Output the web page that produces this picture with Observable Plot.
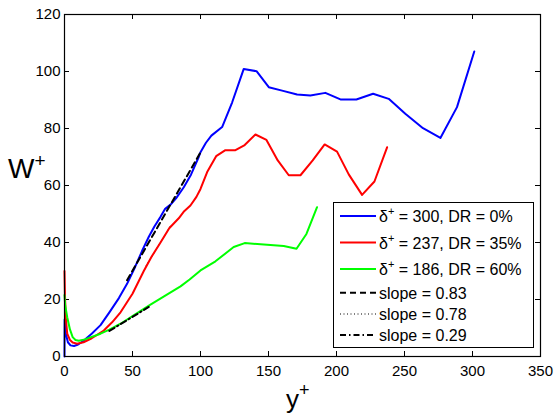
<!DOCTYPE html>
<html>
<head>
<meta charset="utf-8">
<script src="https://cdn.jsdelivr.net/npm/d3@7"></script>
<script src="https://cdn.jsdelivr.net/npm/@observablehq/plot@0.6"></script>
<style>
  html, body { margin: 0; padding: 0; background: #fff; }
  #chart svg { display: block; }
</style>
</head>
<body>
<div id="chart"></div>
<script>
// ---- data ----
const xTicks = [0, 50, 100, 150, 200, 250, 300, 350];
const yTicks = [0, 20, 40, 60, 80, 100, 120];

const blueY = [0, 0.1, 1, 2.5, 4.4, 7, 10, 14, 20, 26.5, 33, 40, 46, 52, 57, 62, 66, 70.6, 74, 78, 82, 87.7, 93, 98.7, 100, 104, 108, 115.9, 123.3, 131.8, 141.2, 150.2, 160, 171, 180.8, 191.8, 202.9, 214.6, 226.9, 238.4, 250.6, 263.6, 276.4, 288.6, 301.3];
const blueW = [0, 13, 8, 5, 3.9, 3.7, 4.2, 5.5, 8, 11, 15.5, 20.5, 25.5, 31.5, 37, 42, 45.5, 49, 51.8, 53.3, 55.5, 59.4, 63.8, 70, 71.7, 75, 77.5, 80.5, 89.2, 100.9, 100.1, 94.5, 93.3, 91.9, 91.6, 92.5, 90.2, 90.2, 92.2, 90.4, 85.2, 80.1, 76.7, 87.5, 107];

const redY = [0, 0.3, 1, 2, 4, 6, 9.3, 14, 20, 28.9, 35, 41.2, 50, 58.3, 64, 70.6, 77, 84, 88, 92.6, 97, 100, 104.9, 111.5, 118.3, 125.7, 132.5, 140.4, 148.5, 156.8, 164.9, 173.5, 182.5, 191.3, 200.4, 209, 218.8, 227.9, 237.2];
const redW = [30, 22, 13, 8, 5.8, 4.9, 4.5, 5, 6.4, 9.1, 12, 15.5, 22, 30, 35, 40, 45, 48.5, 51, 53, 56, 58.8, 64.7, 70.3, 72.4, 72.4, 74.2, 77.9, 76, 68.8, 63.6, 63.6, 68.8, 74.4, 71.9, 63.9, 56.7, 61.4, 73.4];

const greenY = [0, 0.5, 2, 4, 6, 8.1, 10.5, 15, 20, 26.5, 33, 41.2, 50, 63.2, 75, 85.3, 92, 100, 111, 124.4, 132.5, 149, 161.2, 170.6, 177.9, 185.7];
const greenW = [21.6, 18, 13.8, 9.5, 6.8, 5.8, 5.5, 6, 6.9, 8, 9.4, 11.5, 14.2, 18.2, 21.6, 24.6, 27, 30.2, 33.4, 38.4, 39.8, 39.2, 38.8, 37.8, 43, 52.4];

// fitted slope lines (slope, intercept, y+ range)
const slopeNames = ["slope = 0.83", "slope = 0.78", "slope = 0.29"];
const slopeValues = [0.83, 0.78, 0.29];
const slopeIntercepts = [-11.4, -15, -0.6];
const slopeStart = [46, 60, 33];
const slopeEnd = [100, 78, 62];

const seriesNames = ["300, DR = 0%", "237, DR = 35%", "186, DR = 60%"];
const seriesColors = ["#0000ff", "#ff0000", "#00ff00"];

// ---- build tables ----
const toRows = (xs, ws) => xs.map((x, i) => ({x, w: ws[i]}));
const blue = toRows(blueY, blueW);
const red = toRows(redY, redW);
const green = toRows(greenY, greenW);
const slopeLine = (k) => [slopeStart[k], slopeEnd[k]].map(x => ({x, w: slopeValues[k] * x + slopeIntercepts[k]}));

const dashes = ["6,4", "1,2.5", "6,3,1.5,3"];
const W = 555, H = 416;
const mL = 64, mR = 15, mT = 14, mB = 60;
const tickLenX = 5 * 350 / (W - mL - mR);
const tickLenY = 5 * 120 / (H - mT - mB);

const plot = Plot.plot({
  width: W, height: H,
  marginLeft: mL, marginRight: mR, marginTop: mT, marginBottom: mB,
  style: {fontFamily: "'Liberation Sans', Arial, Helvetica, sans-serif", fontSize: "15px", background: "white", color: "black"},
  x: {domain: [0, 350], label: null},
  y: {domain: [0, 120], label: null},
  marks: [
    Plot.axisX(xTicks, {tickSize: 0, tickPadding: 9, fontSize: 15, label: null}),
    Plot.axisY(yTicks, {tickSize: 0, tickPadding: 4, fontSize: 15, label: null}),
    Plot.ruleX(xTicks, {y1: 0, y2: tickLenY, stroke: "black", strokeWidth: 1}),
    Plot.ruleX(xTicks, {y1: 120, y2: 120 - tickLenY, stroke: "black", strokeWidth: 1}),
    Plot.ruleY(yTicks, {x1: 0, x2: tickLenX, stroke: "black", strokeWidth: 1}),
    Plot.ruleY(yTicks, {x1: 350, x2: 350 - tickLenX, stroke: "black", strokeWidth: 1}),
    Plot.line(slopeLine(1), {x: "x", y: "w", stroke: "black", strokeWidth: 1, strokeDasharray: dashes[1]}),
    Plot.line(blue, {x: "x", y: "w", stroke: seriesColors[0], strokeWidth: 2}),
    Plot.line(red, {x: "x", y: "w", stroke: seriesColors[1], strokeWidth: 2}),
    Plot.line(green, {x: "x", y: "w", stroke: seriesColors[2], strokeWidth: 2}),
    Plot.line(slopeLine(0), {x: "x", y: "w", stroke: "black", strokeWidth: 2, strokeDasharray: dashes[0]}),
    Plot.line(slopeLine(2), {x: "x", y: "w", stroke: "black", strokeWidth: 2, strokeDasharray: dashes[2]}),
    Plot.frame({stroke: "black", strokeWidth: 1.2})
  ]
});

document.getElementById("chart").appendChild(plot);

const svg = d3.select(plot);
const ff = "'Liberation Sans', Arial, Helvetica, sans-serif";

// axis titles
const yl = svg.append("text").attr("x", 8).attr("y", 178).attr("text-anchor", "start")
  .attr("font-family", ff).attr("font-size", 28).attr("fill", "black");
yl.append("tspan").text("W");
yl.append("tspan").attr("dy", -11).attr("font-size", 19).text("+");

const xl = svg.append("text").attr("x", 286).attr("y", 408).attr("text-anchor", "start")
  .attr("font-family", ff).attr("font-size", 26).attr("fill", "black");
xl.append("tspan").text("y");
xl.append("tspan").attr("dy", -12).attr("font-size", 18).text("+");

// legend
const lg = svg.append("g").attr("text-anchor", "start");
lg.append("rect").attr("x", 333.5).attr("y", 202.5).attr("width", 200).attr("height", 145)
  .attr("fill", "white").attr("stroke", "black").attr("stroke-width", 1);
const rowsY = [216, 242.5, 269, 292.7, 314, 335];
seriesNames.forEach((name, i) => {
  const cy = rowsY[i];
  lg.append("line").attr("x1", 340).attr("x2", 376).attr("y1", cy).attr("y2", cy)
    .attr("stroke", seriesColors[i]).attr("stroke-width", 2);
  const t = lg.append("text").attr("x", 379).attr("y", cy + 6).attr("text-anchor", "start")
    .attr("font-family", ff).attr("font-size", 16).attr("fill", "black");
  t.append("tspan").text("δ");
  t.append("tspan").attr("dy", -7).attr("font-size", 11).text("+");
  t.append("tspan").attr("dy", 7).text(" = " + name);
});
slopeNames.forEach((name, k) => {
  const cy = rowsY[3 + k];
  lg.append("line").attr("x1", 340).attr("x2", 376).attr("y1", cy).attr("y2", cy)
    .attr("stroke", "black").attr("stroke-width", k === 1 ? 1 : 2)
    .attr("stroke-dasharray", dashes[k]);
  lg.append("text").attr("x", 379).attr("y", cy + 6).attr("text-anchor", "start")
    .attr("font-family", ff).attr("font-size", 16).attr("fill", "black").text(name);
});
</script>
</body>
</html>
